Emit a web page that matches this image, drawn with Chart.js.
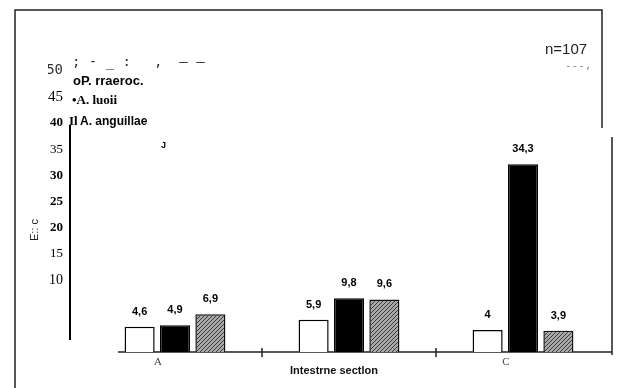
<!DOCTYPE html>
<html>
<head>
<meta charset="utf-8">
<script src="https://cdn.jsdelivr.net/npm/chart.js@4.4.1/dist/chart.umd.min.js"></script>
<style>
    body { margin: 0; background: #fff; }
    canvas { display: block; }
</style>
</head>
<body>
<canvas id="chart" width="617" height="388"></canvas>
<script>
// Datos del gráfico
const categories = ['A', 'B', 'C'];
const categoryLabels = ['A', '', 'C'];
const seriesNames = ['P. rraeroc.', 'A. luoii', 'A. anguillae'];
const pValues = [4.6, 5.9, 4];
const luoiiValues = [4.9, 9.8, 34.3];
const anguillaeValues = [6.9, 9.6, 3.9];
const yTicks = [10, 15, 20, 25, 30, 35, 40, 45, 50];

// Trama gris rayada para la tercera serie
function makeHatch() {
    const p = document.createElement('canvas');
    p.width = 4;
    p.height = 4;
    const g = p.getContext('2d');
    g.fillStyle = '#a8a8a8';
    g.fillRect(0, 0, 4, 4);
    g.strokeStyle = '#3a3a3a';
    g.lineWidth = 1;
    g.beginPath();
    g.moveTo(0, 4);
    g.lineTo(4, 0);
    g.stroke();
    return g.createPattern(p, 'repeat');
}

const ctx = document.getElementById('chart').getContext('2d');

function fmt(v) {
    return String(v).replace('.', ',');
}

// Marco, ejes dibujados a mano y textos sueltos
const decoPlugin = {
    id: 'deco',
    beforeDatasetsDraw(chart) {
        const c = chart.ctx;
        const area = chart.chartArea;
        const x = chart.scales.x;
        c.save();
        c.strokeStyle = '#222';
        c.lineWidth = 1.5;
        c.beginPath();
        c.moveTo(118, area.bottom);
        c.lineTo(area.right + 2, area.bottom);
        // marcas entre grupos
        for (let i = 1; i < categories.length; i++) {
            const px = (x.getPixelForValue(i - 1) + x.getPixelForValue(i)) / 2;
            c.moveTo(px, area.bottom - 4);
            c.lineTo(px, area.bottom + 5);
        }
        c.stroke();
        c.restore();
    },
    afterDraw(chart) {
        const c = chart.ctx;
        c.save();

        // marco exterior
        c.strokeStyle = '#222';
        c.lineWidth = 1.5;
        c.beginPath();
        c.moveTo(15, 388);
        c.lineTo(15, 10);
        c.lineTo(602, 10);
        c.lineTo(602, 128);
        c.moveTo(612, 137);
        c.lineTo(612, 355);
        c.stroke();

        // eje vertical
        c.lineWidth = 2;
        c.strokeStyle = '#000';
        c.beginPath();
        c.moveTo(70, 125);
        c.lineTo(70, 340);
        c.stroke();

        // etiquetas de valores
        c.fillStyle = '#000';
        c.font = 'bold 11px "Liberation Sans Narrow", "Liberation Sans", sans-serif';
        c.textAlign = 'center';
        c.textBaseline = 'middle';
        chart.data.datasets.forEach((ds, i) => {
            chart.getDatasetMeta(i).data.forEach((bar, j) => {
                c.fillText(fmt(ds.data[j]), bar.x, bar.y - 15);
            });
        });

        // leyenda
        c.textAlign = 'left';
        c.font = 'bold 13px "Liberation Sans Narrow", "Liberation Sans", sans-serif';
        c.fillText('o' + seriesNames[0].slice(0, 2) + ' ' + seriesNames[0].slice(3), 73, 81);
        c.font = 'bold 13px "Liberation Serif", serif';
        c.fillText('\u2022' + seriesNames[1], 72, 101);
        c.fillText('Il', 69, 122);
        c.font = 'bold 12px "Liberation Sans Narrow", "Liberation Sans", sans-serif';
        c.fillText(seriesNames[2], 80, 122);
        c.font = 'bold 9px "Liberation Sans", sans-serif';
        c.fillText('J', 161, 146);

        // restos de la línea superior
        c.fillStyle = '#333';
        c.font = '14px "DejaVu Sans Mono", monospace';
        c.fillText('; - _ :', 72, 62);
        c.fillText(',  \u2014 \u2014', 154, 62);

        // n
        c.fillStyle = '#222';
        c.font = '15px "Liberation Sans", sans-serif';
        c.fillText('n=107', 545, 50);
        c.fillStyle = '#888';
        c.font = '11px "DejaVu Sans Mono", monospace';
        c.fillText('---,', 565, 66);

        // título eje y
        c.save();
        c.translate(35, 230);
        c.rotate(-Math.PI / 2);
        c.textAlign = 'center';
        c.fillStyle = '#222';
        c.font = '11px "Liberation Sans", sans-serif';
        c.fillText('E:: c', 0, 0);
        c.restore();

        // título eje x
        c.textAlign = 'center';
        c.fillStyle = '#111';
        c.font = 'bold 11px "Liberation Sans", sans-serif';
        c.fillText('Intestrne sectlon', 334, 371);

        c.restore();
    }
};

const tickFonts = {
    50: { family: '"DejaVu Sans Mono", monospace', size: 14 },
    45: { family: '"Liberation Serif", serif', size: 15 },
    40: { family: '"Liberation Serif", serif', size: 13, weight: 'bold' },
    35: { family: '"Liberation Serif", serif', size: 13 },
    30: { family: '"Liberation Serif", serif', size: 13, weight: 'bold' },
    25: { family: '"Liberation Serif", serif', size: 13, weight: 'bold' },
    20: { family: '"Liberation Serif", serif', size: 13, weight: 'bold' },
    15: { family: '"Liberation Serif", serif', size: 13 },
    10: { family: '"Liberation Serif", serif', size: 14 }
};

new Chart(ctx, {
    type: 'bar',
    data: {
        labels: categories,
        datasets: [
            {
                label: seriesNames[0],
                data: pValues,
                backgroundColor: '#fff',
                borderColor: '#000',
                borderWidth: 1.5
            },
            {
                label: seriesNames[1],
                data: luoiiValues,
                backgroundColor: '#000',
                borderColor: '#000',
                borderWidth: 1.5
            },
            {
                label: seriesNames[2],
                data: anguillaeValues,
                backgroundColor: makeHatch(),
                borderColor: '#111',
                borderWidth: 1.5
            }
        ]
    },
    options: {
        responsive: false,
        animation: false,
        categoryPercentage: 0.61,
        barPercentage: 0.85,
        layout: {
            padding: { left: 48, right: 7, top: 51, bottom: 0 }
        },
        plugins: {
            legend: { display: false },
            tooltip: { enabled: false }
        },
        scales: {
            x: {
                border: { display: false },
                grid: { display: false, tickLength: 4 },
                ticks: {
                    padding: 0,
                    labelOffset: -17,
                    color: '#444',
                    font: { family: '"Liberation Serif", serif', size: 11 },
                    callback: (v, i) => categoryLabels[i]
                },
                afterFit: (s) => { s.height = 36; }
            },
            y: {
                display: false,
                min: 0,
                max: 55
            },
            y2: {
                position: 'left',
                min: -3.8,
                max: 53.8,
                border: { display: false },
                grid: { display: false, drawTicks: false },
                afterBuildTicks: (s) => { s.ticks = yTicks.map(v => ({ value: v })); },
                ticks: {
                    padding: 25,
                    color: (c) => c.tick && c.tick.value === 50 ? '#333' : '#000',
                    font: (c) => tickFonts[c.tick ? c.tick.value : 10]
                },
                afterFit: (s) => { s.width = 40; }
            }
        }
    },
    plugins: [decoPlugin]
});
</script>
</body>
</html>
